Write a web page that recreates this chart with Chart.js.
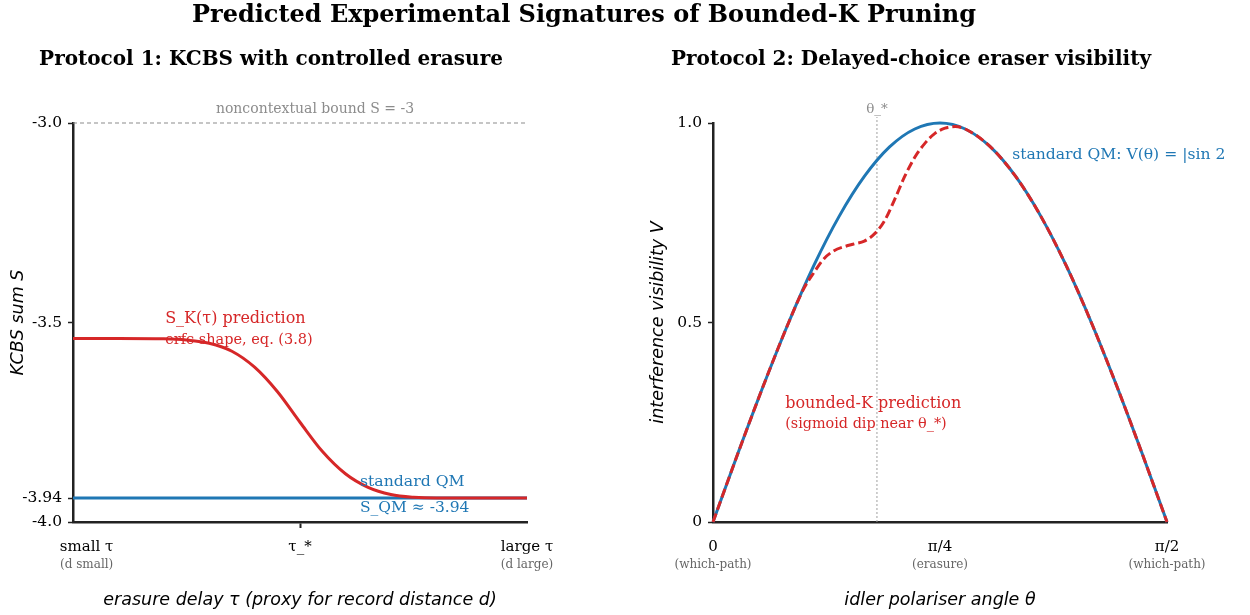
<!DOCTYPE html>
<html><head><meta charset="utf-8">
<script src="https://cdn.jsdelivr.net/npm/chart.js@4.4.0/dist/chart.umd.min.js"></script>
<style>
html,body{margin:0;padding:0;background:#fff;}
#wrap{position:relative;width:1250px;height:615px;overflow:hidden;background:#fff;}
#c1{position:absolute;left:0;top:0;}
#c2{position:absolute;left:625px;top:0;}
#title{position:absolute;left:0;width:1168px;top:0;text-align:center;font:bold 24px "DejaVu Serif",serif;line-height:28px;color:#000;white-space:nowrap;}
</style></head>
<body>
<div id="wrap">
<canvas id="c1" width="625" height="615"></canvas>
<canvas id="c2" width="625" height="615"></canvas>
<div id="title">Predicted Experimental Signatures of Bounded-K Pruning</div>
</div>
<script>
// ---------- Panel 1 data ----------
const tauTicks = [0.03, 0.5, 1];
const tauTickLabels = ['small τ', 'τ_*', 'large τ'];
const tauSubLabels = ['(d small)', '', '(d large)'];
const tauRange = [0, 1];
const sTicks = [-4.0, -3.94, -3.5, -3.0];
const sTickLabels = ['-4.0', '-3.94', '-3.5', '-3.0'];
const sNoncontextual = -3.0;
const sQMvalue = -3.94;
const tauQM = [0, 1];
const sQM = [-3.94, -3.94];
const tauK = [0, 0.1, 0.2, 0.25, 0.3, 0.35, 0.4, 0.45, 0.5, 0.55, 0.6, 0.65, 0.7, 0.75, 0.8, 0.9, 1.0];
const sK   = [-3.540, -3.540, -3.541, -3.544, -3.552, -3.572, -3.612, -3.673, -3.750, -3.824, -3.879, -3.913, -3.931, -3.938, -3.940, -3.940, -3.940];

// ---------- Panel 2 data ----------
const thetaTicks = [0, 45, 90];
const thetaTickLabels = ['0', 'π/4', 'π/2'];
const thetaSubLabels = ['(which-path)', '(erasure)', '(which-path)'];
const vTicks = [0, 0.5, 1.0];
const vTickLabels = ['0', '0.5', '1.0'];
const thetaStar = 32.5;
const thetaQM = [0, 5, 10, 15, 20, 25, 30, 35, 40, 45, 50, 55, 60, 65, 70, 75, 80, 85, 90];
const vQM     = [0, 0.174, 0.342, 0.5, 0.643, 0.766, 0.866, 0.940, 0.985, 1.0, 0.985, 0.940, 0.866, 0.766, 0.643, 0.5, 0.342, 0.174, 0];
const thetaK = [0, 5, 10, 15, 18, 20, 22, 24, 26, 28, 30, 32, 34, 36, 38, 40, 42, 44, 46, 48, 50, 55, 60, 65, 70, 75, 80, 85, 90];
const vK     = [0, 0.174, 0.342, 0.5, 0.585, 0.625, 0.660, 0.680, 0.690, 0.697, 0.704, 0.722, 0.755, 0.808, 0.866, 0.914, 0.949, 0.974, 0.987, 0.991, 0.985, 0.940, 0.866, 0.766, 0.643, 0.5, 0.342, 0.174, 0];

// ---------- styles ----------
const SERIF = '"DejaVu Serif", serif';
const SANS = '"DejaVu Sans", sans-serif';
const BLUE = '#1f77b4', RED = '#d62728', INK = '#222222';

const pts = (xs, ys) => xs.map((x, i) => ({x: x, y: ys[i]}));

function xAxis(min, max, ticks, labels, title, tickColorFn) {
  return {
    type: 'linear', min: min, max: max,
    afterBuildTicks: s => { s.ticks = ticks.map(v => ({value: v})); },
    afterFit: s => { s.height = 93; },
    ticks: {autoSkip: false, maxRotation: 0, padding: 10, color: '#000',
            font: {family: SERIF, size: 15}, callback: (v, i) => labels[i]},
    grid: {display: true, drawOnChartArea: false, drawTicks: true, tickLength: 6, tickWidth: 2,
           tickColor: tickColorFn, color: 'rgba(0,0,0,0)'},
    border: {display: true, color: INK, width: 2.5},
    title: {display: true, text: title, color: '#000',
            font: {family: SANS, size: 17.5, style: 'italic'}, padding: {top: 0, bottom: 4.5}}
  };
}
function yAxis(min, max, ticks, labels, title, width, tpad) {
  return {
    type: 'linear', min: min, max: max,
    afterBuildTicks: s => { s.ticks = ticks.map(v => ({value: v})); },
    afterFit: s => { s.width = width; },
    ticks: {autoSkip: false, padding: 6, color: '#000', font: {family: SERIF, size: 15.5}, callback: (v, i) => labels[i]},
    grid: {display: true, drawOnChartArea: false, drawTicks: true, tickLength: 5, tickWidth: 1.5,
           tickColor: INK, color: 'rgba(0,0,0,0)'},
    border: {display: true, color: INK, width: 2.5},
    title: {display: true, text: title, color: '#000',
            font: {family: SANS, size: 17.5, style: 'italic'}, padding: {top: tpad, bottom: 0}}
  };
}

function text(ctx, str, x, y, font, color, align) {
  ctx.font = font; ctx.fillStyle = color; ctx.textAlign = align || 'left'; ctx.textBaseline = 'middle';
  ctx.fillText(str, x, y);
}

const panel1Plugin = {
  id: 'panel1',
  afterDraw(chart) {
    const {ctx, chartArea: a, scales: {x, y}} = chart;
    ctx.save();
    text(ctx, 'Protocol 1: KCBS with controlled erasure', (a.left + a.right) / 2 - 29, 60, 'bold 20px ' + SERIF, '#000', 'center');
    tauTicks.forEach((v, i) => {
      if (tauSubLabels[i]) text(ctx, tauSubLabels[i], x.getPixelForValue(v), a.bottom + 43, '12px ' + SERIF, '#666', 'center');
    });
    text(ctx, 'noncontextual bound S = -3', x.getPixelForValue(0.533), y.getPixelForValue(-2.967), '14px ' + SERIF, '#8c8c8c', 'center');
    text(ctx, 'S_K(τ) prediction', x.getPixelForValue(0.203), y.getPixelForValue(-3.491), '16px ' + SERIF, RED);
    text(ctx, 'erfc shape, eq. (3.8)', x.getPixelForValue(0.203), y.getPixelForValue(-3.544), '14.5px ' + SERIF, RED);
    text(ctx, 'standard QM', x.getPixelForValue(0.632), y.getPixelForValue(-3.900), '15.7px ' + SERIF, BLUE);
    text(ctx, 'S_QM ≈ ' + sQMvalue.toFixed(2), x.getPixelForValue(0.632), y.getPixelForValue(-3.965), '15.5px ' + SERIF, BLUE);
    ctx.restore();
  }
};

const panel2Plugin = {
  id: 'panel2',
  afterDraw(chart) {
    const {ctx, chartArea: a, scales: {x, y}} = chart;
    ctx.save();
    text(ctx, 'Protocol 2: Delayed-choice eraser visibility', (a.left + a.right) / 2 - 29, 60, 'bold 20px ' + SERIF, '#000', 'center');
    thetaTicks.forEach((v, i) => {
      text(ctx, thetaSubLabels[i], x.getPixelForValue(v), a.bottom + 43, '12px ' + SERIF, '#666', 'center');
    });
    text(ctx, 'θ_*', x.getPixelForValue(thetaStar), y.getPixelForValue(1.033), '13.5px ' + SERIF, '#8c8c8c', 'center');
    text(ctx, 'standard QM: V(θ) = |sin 2', x.getPixelForValue(59.3), y.getPixelForValue(0.92), '15.6px ' + SERIF, BLUE);
    text(ctx, 'bounded-K prediction', x.getPixelForValue(14.3), y.getPixelForValue(0.296), '16px ' + SERIF, RED);
    text(ctx, '(sigmoid dip near θ_*)', x.getPixelForValue(14.3), y.getPixelForValue(0.246), '14.4px ' + SERIF, RED);
    ctx.restore();
  }
};

new Chart(document.getElementById('c1'), {
  type: 'line',
  data: {datasets: [
    {data: pts(tauK, sK), borderColor: RED, borderWidth: 3, cubicInterpolationMode: 'monotone', pointRadius: 0, clip: false},
    {data: pts(tauQM, sQM), borderColor: BLUE, borderWidth: 3, pointRadius: 0, clip: false},
    {data: pts(tauRange, [sNoncontextual, sNoncontextual]), borderColor: '#8c8c8c', borderWidth: 1.1, borderDash: [4, 3], pointRadius: 0, clip: false}
  ]},
  options: {
    responsive: false, animation: false, events: [],
    layout: {padding: {left: 0, right: 98, top: 123, bottom: 0}},
    plugins: {legend: {display: false}, tooltip: {enabled: false}},
    scales: {
      x: xAxis(0, 1, tauTicks, tauTickLabels, 'erasure delay τ (proxy for record distance d)',
               c => (c.tick && c.tick.value === 0.5) ? INK : 'rgba(0,0,0,0)'),
      y: yAxis(-4.0, -3.0, sTicks, sTickLabels, 'KCBS sum S', 73, 7.5)
    }
  },
  plugins: [panel1Plugin]
});

new Chart(document.getElementById('c2'), {
  type: 'line',
  data: {datasets: [
    {data: pts(thetaK, vK), borderColor: RED, borderWidth: 3, borderDash: [9, 4], cubicInterpolationMode: 'monotone', pointRadius: 0, clip: false},
    {data: pts(thetaQM, vQM), borderColor: BLUE, borderWidth: 3, cubicInterpolationMode: 'monotone', pointRadius: 0, clip: false},
    {data: pts([thetaStar, thetaStar], [0, 1.015]), borderColor: '#a0a0a0', borderWidth: 1, borderDash: [2, 2], pointRadius: 0, clip: false}
  ]},
  options: {
    responsive: false, animation: false, events: [],
    layout: {padding: {left: 0, right: 83, top: 123, bottom: 0}},
    plugins: {legend: {display: false}, tooltip: {enabled: false}},
    scales: {
      x: xAxis(0, 90, thetaTicks, thetaTickLabels, 'idler polariser angle θ', 'rgba(0,0,0,0)'),
      y: yAxis(0, 1, vTicks, vTickLabels, 'interference visibility V', 88, 22.5)
    }
  },
  plugins: [panel2Plugin]
});
</script>
</body></html>
